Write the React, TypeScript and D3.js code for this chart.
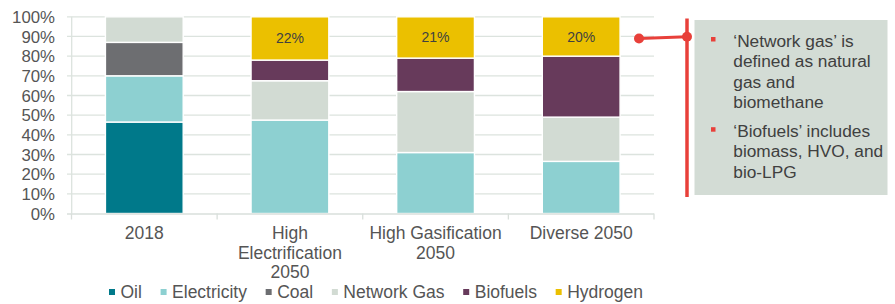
import React, { useEffect, useRef } from "react";
import * as d3 from "d3";

const categories = ["2018", "High Electrification 2050", "High Gasification 2050", "Diverse 2050"];
const categoryLabelLines = [["2018"], ["High", "Electrification", "2050"], ["High Gasification", "2050"], ["Diverse 2050"]];
const seriesNames = ["Oil", "Electricity", "Coal", "Network Gas", "Biofuels", "Hydrogen"];
const oil = [46.5, 0, 0, 0];
const electricity = [23.5, 47.5, 31, 26.5];
const coal = [17, 0, 0, 0];
const networkGas = [13, 20, 31, 22.5];
const biofuels = [0, 10.5, 17, 31];
const hydrogen = [0, 22, 21, 20];
const yTicks = [0, 10, 20, 30, 40, 50, 60, 70, 80, 90, 100];
const noteBullets = [
  ["\u2018Network gas\u2019 is", "defined as natural", "gas and", "biomethane"],
  ["\u2018Biofuels\u2019 includes", "biomass, HVO, and", "bio-LPG"],
];

const colors = ["#00798A", "#8DD0D1", "#6D6E71", "#D2DBD3", "#673A5B", "#EBC000"];
const FONT = "'Liberation Sans', Arial, sans-serif";

export default function App() {
  const ref = useRef<SVGSVGElement | null>(null);

  useEffect(() => {
    const svg = d3.select(ref.current);
    svg.selectAll("*").remove();

    const values = [oil, electricity, coal, networkGas, biofuels, hydrogen];
    const table = categories.map((c, i) => {
      const row: any = { category: c };
      seriesNames.forEach((s, k) => (row[s] = values[k][i]));
      return row;
    });

    const x = d3.scaleBand<string>().domain(categories).range([71.5, 654]).paddingInner(0.466).paddingOuter(0.233);
    const y = d3.scaleLinear().domain([0, 100]).range([213.5, 16.8]);

    // gridlines
    svg.append("g")
      .selectAll("line")
      .data(yTicks.filter((t) => t > 0))
      .join("line")
      .attr("x1", 67)
      .attr("x2", 654)
      .attr("y1", (d) => y(d))
      .attr("y2", (d) => y(d))
      .attr("stroke", "#DCE3DE")
      .attr("stroke-width", 1.3);

    // y axis line
    svg.append("line").attr("x1", 71.7).attr("x2", 71.7).attr("y1", y(100)).attr("y2", y(0))
      .attr("stroke", "#DCE3DE").attr("stroke-width", 1.3);

    // y tick labels
    svg.append("g")
      .selectAll("text")
      .data(yTicks)
      .join("text")
      .attr("x", 55)
      .attr("y", (d) => y(d))
      .attr("dy", "0.36em")
      .attr("text-anchor", "end")
      .attr("font-family", FONT)
      .attr("font-size", 16.8)
      .attr("fill", "#555555")
      .text((d) => `${d}%`);

    // stacked bars
    const stack = d3.stack<any>().keys(seriesNames);
    const stacked = stack(table);
    svg.append("g")
      .selectAll("g")
      .data(stacked)
      .join("g")
      .attr("fill", (_d, i) => colors[i])
      .selectAll("rect")
      .data((d) => d.filter((p) => p[1] - p[0] > 0))
      .join("rect")
      .attr("x", (d: any) => x(d.data.category)!)
      .attr("width", x.bandwidth())
      .attr("y", (d) => y(d[1]))
      .attr("height", (d) => y(d[0]) - y(d[1]))
      .attr("stroke", "#FFFFFF")
      .attr("stroke-width", 1.4);

    // hydrogen labels
    const hLayer = stacked[stacked.length - 1];
    svg.append("g")
      .selectAll("text")
      .data(hLayer.filter((p) => p[1] - p[0] > 0))
      .join("text")
      .attr("x", (d: any) => x(d.data.category)! + x.bandwidth() / 2)
      .attr("y", (d) => (y(d[0]) + y(d[1])) / 2)
      .attr("dy", "0.36em")
      .attr("text-anchor", "middle")
      .attr("font-family", FONT)
      .attr("font-size", 14)
      .attr("fill", "#404040")
      .text((d) => `${d[1] - d[0]}%`);

    // x axis line and ticks
    svg.append("line").attr("x1", 67).attr("x2", 654).attr("y1", y(0) + 0.5).attr("y2", y(0) + 0.5)
      .attr("stroke", "#D9DFDB").attr("stroke-width", 1.3);
    const step = x.step();
    const start = x.range()[0];
    svg.append("g")
      .selectAll("line")
      .data(d3.range(categories.length + 1))
      .join("line")
      .attr("x1", (i) => start + i * step)
      .attr("x2", (i) => start + i * step)
      .attr("y1", y(0))
      .attr("y2", y(0) + 6)
      .attr("stroke", "#D9DFDB")
      .attr("stroke-width", 1.3);

    // x labels
    const xl = svg.append("g");
    categories.forEach((c, i) => {
      const t = xl.append("text")
        .attr("text-anchor", "middle")
        .attr("font-family", FONT)
        .attr("font-size", 17.5)
        .attr("fill", "#555555");
      categoryLabelLines[i].forEach((line, j) => {
        t.append("tspan").attr("x", x(c)! + x.bandwidth() / 2).attr("y", 239 + j * 19.6).text(line);
      });
    });

    // legend
    const lg = svg.append("g");
    let cx = 109;
    seriesNames.forEach((s, i) => {
      lg.append("rect").attr("x", cx).attr("y", 289).attr("width", 6).attr("height", 6).attr("fill", colors[i]);
      const t = lg.append("text")
        .attr("x", cx + 11.5)
        .attr("y", 298)
        .attr("font-family", FONT)
        .attr("font-size", 17.5)
        .attr("fill", "#555555")
        .text(s);
      const w = (t.node() as SVGTextElement).getComputedTextLength();
      cx = cx + 11.5 + w + 18.7;
    });

    // annotation box
    svg.append("rect").attr("x", 694.5).attr("y", 20).attr("width", 193).attr("height", 175).attr("fill", "#D3DCD5");
    const red = "#E8403A";
    svg.append("line").attr("x1", 687).attr("x2", 687).attr("y1", 18.5).attr("y2", 197)
      .attr("stroke", red).attr("stroke-width", 3.5);
    svg.append("path").attr("d", "M639,38.5 L687,36.8").attr("stroke", red).attr("stroke-width", 3).attr("fill", "none");
    svg.append("circle").attr("cx", 639).attr("cy", 38.5).attr("r", 5).attr("fill", red);
    svg.append("circle").attr("cx", 687).attr("cy", 36.8).attr("r", 5).attr("fill", red);

    const notes = svg.append("g");
    const bulletBase = [46.5, 136.7];
    noteBullets.forEach((lines, b) => {
      notes.append("rect").attr("x", 711).attr("y", bulletBase[b] - 9.5).attr("width", 4.5).attr("height", 4.5).attr("fill", red);
      const t = notes.append("text").attr("font-family", FONT).attr("font-size", 17.3).attr("fill", "#404040");
      lines.forEach((line, j) => {
        t.append("tspan").attr("x", 733.3).attr("y", bulletBase[b] + j * 20.6).text(line);
      });
    });
  }, []);

  return (
    <svg
      ref={ref}
      width={895}
      height={304}
      style={{ position: "absolute", left: 0, top: 0, background: "#FFFFFF" }}
    />
  );
}
